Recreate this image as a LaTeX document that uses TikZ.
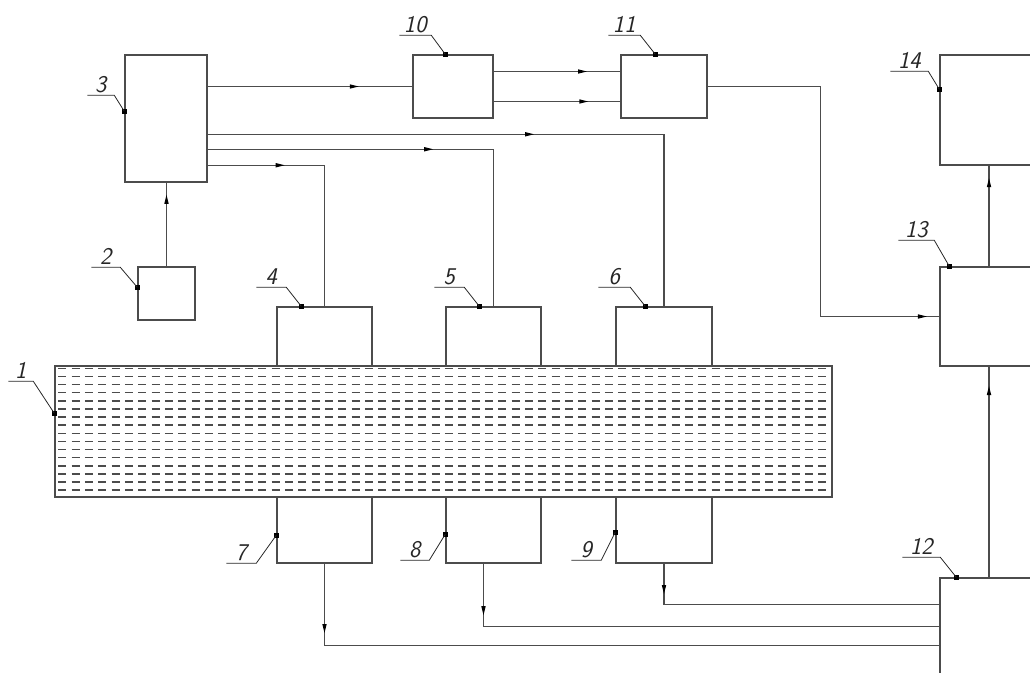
\documentclass[tikz,border=0pt]{standalone}
\usetikzlibrary{arrows.meta,calc,fit,decorations.markings}
\tikzset{unit/.style={draw=black!70, line width=1.1pt, inner sep=0pt, fit={#1}},
  link/.style={draw=black!70, line width=1.1pt},
  flow/.style={link, postaction={decorate}, decoration={markings,
      mark=at position #1 with {\arrow{Triangle[length=7pt,width=3pt,color=black]}}}},
  hatch/.style={black!70, line width=1.1pt, dash pattern=on 6pt off 4pt},
  lbl/.style={font=\sffamily\itshape\fontsize{18}{19}\selectfont, inner sep=1.5pt},
  leader/.style={black!85, line width=0.6pt}}
% position number: dot on the unit, slanted leader, shelf with the number above it
\newcommand{\posmark}[5]{%
  \fill[black] ($(#1)+(-2.5,-2.5)$) rectangle ++(5,5);
  \draw[leader] (#1) -- ++(#2) -- ++(#3,0) node[lbl, midway, above] (#4) {#5};}

\begin{document}
\begin{tikzpicture}[x=0.75pt, y=-0.75pt]
  \useasboundingbox (0,0) rectangle (1030,673);
  \clip (0,0) rectangle (1030,673);
  % vessel and the units on it
  \node[unit={(55,366) (832,497)}] (v) {};
  \foreach \i in {0,...,15}
    \draw[hatch] ($(v.north west)+(4,3+8.13*\i)$) -- ($(v.north east)+(-2,3+8.13*\i)$);
  \node[unit={(277,307) (372,366)}] (b4) {};
  \node[unit={(446,307) (541,366)}] (b5) {};
  \node[unit={(616,307) (712,366)}] (b6) {};
  \node[unit={(277,497) (372,563)}] (b7) {};
  \node[unit={(446,497) (541,563)}] (b8) {};
  \node[unit={(616,497) (712,563)}] (b9) {};
  % control part
  \node[unit={(138,267) (195,320)}] (b2) {};
  \node[unit={(125,55) (207,182)}] (b3) {};
  \node[unit={(413,55) (493,118)}] (b10) {};
  \node[unit={(621,55) (707,118)}] (b11) {};
  \node[unit={(940,578) (1038,720)}] (b12) {};
  \node[unit={(940,267) (1038,366)}] (b13) {};
  \node[unit={(940,55) (1038,165)}] (b14) {};
  % connections
  \draw[flow=.86] (b2.north) -- (b2.north |- b3.south);
  \draw[flow=.74] (b3.east |- b10.west) -- (b10.west);
  \draw[flow=.74] ($(b10.east)+(0,-15)$) -- ($(b11.west)+(0,-15)$);
  \draw[flow=.75] ($(b10.east)+(0,15)$) -- ($(b11.west)+(0,15)$);
  \coordinate (o6) at ($(b3.north east)+(0,80)$);
  \coordinate (o5) at ($(b3.north east)+(0,95)$);
  \coordinate (o4) at ($(b3.north east)+(0,111)$);
  \draw[flow=.52] (o6) -| (b6.north);
  \draw[flow=.51] (o5) -| (b5.north);
  \draw[flow=.30] (o4) -| (b4.north);
  \draw[flow=.974] (b11.east) -- ++(113,0) |- (b13.west);
  \draw[flow=.88] (b13.north) -- (b14.south);
  \draw[flow=.91] (b12.north) -- (b13.south);
  \coordinate (i9) at ($(b12.north west)+(0,27)$);
  \coordinate (i8) at ($(b12.north west)+(0,49)$);
  \coordinate (i7) at ($(b12.north west)+(0,68)$);
  \draw[flow=.097] (b9.south) |- (i9);
  \draw[flow=.10] ($(b8.south)+(-10,0)$) |- (i8);
  \draw[flow=.10] (b7.south) |- (i7);
  % position numbers
  \coordinate (d1) at ($(v.north west)+(0,48)$);
  \coordinate (d2) at ($(b2.north west)+(0,21)$);
  \coordinate (d3) at ($(b3.north west)+(0,57)$);
  \coordinate (d4) at ($(b4.north west)+(25,0)$);
  \coordinate (d5) at ($(b5.north west)+(34,0)$);
  \coordinate (d6) at ($(b6.north west)+(30,0)$);
  \coordinate (d7) at ($(b7.north west)+(0,39)$);
  \coordinate (d8) at ($(b8.north west)+(0,38)$);
  \coordinate (d9) at ($(b9.north west)+(0,36)$);
  \coordinate (d10) at ($(b10.north west)+(33,0)$);
  \coordinate (d11) at ($(b11.north west)+(35,0)$);
  \coordinate (d12) at ($(b12.north west)+(17,0)$);
  \coordinate (d13) at ($(b13.north west)+(10,0)$);
  \coordinate (d14) at ($(b14.north west)+(0,35)$);
  \posmark{d1}{-21,-32}{-25}{l1}{1}
  \posmark{d2}{-17,-20}{-29}{l2}{2}
  \posmark{d3}{-10,-16}{-27}{l3}{3}
  \posmark{d4}{-15,-19}{-30}{l4}{4}
  \posmark{d5}{-15,-19}{-30}{l5}{5}
  \posmark{d6}{-15,-19}{-32}{l6}{6}
  \posmark{d7}{-20,28}{-30}{l7}{7}
  \posmark{d8}{-16,26}{-29}{l8}{8}
  \posmark{d9}{-14,28}{-30}{l9}{9}
  \posmark{d10}{-14,-19}{-32}{l10}{10}
  \posmark{d11}{-15,-19}{-32}{l11}{11}
  \posmark{d12}{-16,-20}{-38}{l12}{12}
  \posmark{d13}{-15,-26}{-36}{l13}{13}
  \posmark{d14}{-11,-18}{-38}{l14}{14}
\end{tikzpicture}
\end{document}
